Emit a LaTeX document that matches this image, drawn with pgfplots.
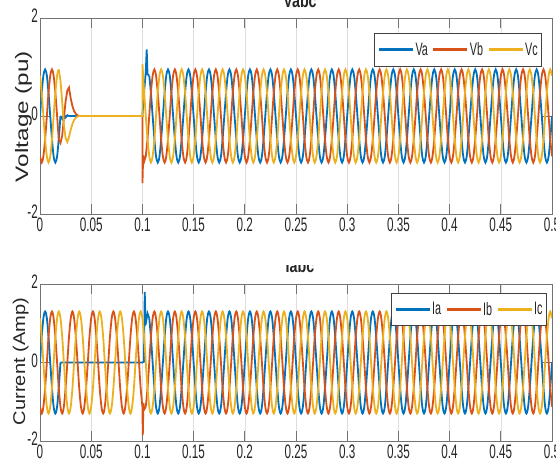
\documentclass[border=0pt]{standalone}
\usepackage{fontspec}
\setmainfont{Liberation Sans}[FakeStretch=0.6]
\newfontfamily\ylabfont{Liberation Sans}[FakeStretch=1.35]
\newfontfamily\ylabfontb{Liberation Sans}[FakeStretch=1.18]
\newfontfamily\titfont{Liberation Sans}[FakeStretch=0.75]
\usepackage{pgfplots}
\usepackage{pgfplotstable}
\pgfplotsset{compat=1.18}
\definecolor{mblue}{RGB}{0,114,189}
\definecolor{morange}{RGB}{217,83,25}
\definecolor{myellow}{RGB}{237,177,32}
\newcommand\tickf{\fontsize{19.5bp}{22bp}\selectfont}
\newcommand\legf{\fontsize{18bp}{20bp}\selectfont}
\pgfplotsset{
  mystyle/.style={
    scale only axis, width=512bp,
    xmin=0, xmax=0.5, ymin=-2, ymax=2,
    xtick={0,0.05,0.1,0.15,0.2,0.25,0.3,0.35,0.4,0.45,0.5},
    xticklabels={0,0.05,0.1,0.15,0.2,0.25,0.3,0.35,0.4,0.45,0.5},
    ytick={-2,0,2}, yticklabels={-2,0,2},
    tick align=inside, tick pos=both, major tick length=10bp,
    xmajorgrids, grid style={black!13, line width=0.6bp},
    axis line style={black!55, line width=0.8bp},
    tick style={black!55, line width=0.8bp},
    tick label style={font=\tickf, text=black!85},
    yticklabel style={inner xsep=2bp, yshift=2bp},
    legend columns=3,
    legend image code/.code={\draw[##1, line width=3bp] (0bp,0bp) -- (34bp,0bp);},
    legend style={draw=black!75, line width=0.6bp, fill=white, inner xsep=3bp, inner ysep=8bp,
      font=\legf, text=black!85, nodes={inner sep=1bp},
      /tikz/every even column/.append style={column sep=3bp}},
    every axis plot/.append style={line width=1.8bp},
  },
}
\begin{document}
\pgfplotstableread{
t va vb vc ia ib ic
0 0 -0.823 0.823 0 -1.126 1.126
0.0017 0.475 -0.95 0.475 0.65 -1.3 0.65
0.0033 0.823 -0.823 0 1.126 -1.126 0
0.005 0.95 -0.475 -0.475 1.3 -0.65 -0.65
0.0067 0.823 0 -0.823 1.126 0 -1.126
0.0083 0.475 0.475 -0.95 0.65 0.65 -1.3
0.01 0 0.823 -0.823 0 1.126 -1.126
0.0117 -0.475 0.95 -0.475 -0.65 1.3 -0.65
0.0133 -0.823 0.823 0 -1.126 1.126 0
0.015 -0.95 0.475 0.475 -1.3 0.65 0.65
0.0167 -0.823 0 0.823 -1.126 0 1.126
0.0183 -0.475 -0.475 0.95 -0.65 -0.65 1.3
0.02 0 -0.823 0.823 0 -1.126 1.126
0.0217 0.475 -0.95 0.475 0.65 -1.3 0.65
0.0233 0.823 -0.823 0 1.126 -1.126 0
0.025 0.95 -0.475 -0.475 1.3 -0.65 -0.65
0.0267 0.823 0 -0.823 1.126 0 -1.126
0.0283 0.475 0.475 -0.95 0.65 0.65 -1.3
0.03 0 0.823 -0.823 0 1.126 -1.126
0.0317 -0.475 0.95 -0.475 -0.65 1.3 -0.65
0.0333 -0.823 0.823 0 -1.126 1.126 0
0.035 -0.95 0.475 0.475 -1.3 0.65 0.65
0.0367 -0.823 0 0.823 -1.126 0 1.126
0.0383 -0.475 -0.475 0.95 -0.65 -0.65 1.3
0.04 0 -0.823 0.823 0 -1.126 1.126
0.0417 0.475 -0.95 0.475 0.65 -1.3 0.65
0.0433 0.823 -0.823 0 1.126 -1.126 0
0.045 0.95 -0.475 -0.475 1.3 -0.65 -0.65
0.0467 0.823 0 -0.823 1.126 0 -1.126
0.0483 0.475 0.475 -0.95 0.65 0.65 -1.3
0.05 0 0.823 -0.823 0 1.126 -1.126
0.0517 -0.475 0.95 -0.475 -0.65 1.3 -0.65
0.0533 -0.823 0.823 0 -1.126 1.126 0
0.055 -0.95 0.475 0.475 -1.3 0.65 0.65
0.0567 -0.823 0 0.823 -1.126 0 1.126
0.0583 -0.475 -0.475 0.95 -0.65 -0.65 1.3
0.06 0 -0.823 0.823 0 -1.126 1.126
0.0617 0.475 -0.95 0.475 0.65 -1.3 0.65
0.0633 0.823 -0.823 0 1.126 -1.126 0
0.065 0.95 -0.475 -0.475 1.3 -0.65 -0.65
0.0667 0.823 0 -0.823 1.126 0 -1.126
0.0683 0.475 0.475 -0.95 0.65 0.65 -1.3
0.07 0 0.823 -0.823 0 1.126 -1.126
0.0717 -0.475 0.95 -0.475 -0.65 1.3 -0.65
0.0733 -0.823 0.823 0 -1.126 1.126 0
0.075 -0.95 0.475 0.475 -1.3 0.65 0.65
0.0767 -0.823 0 0.823 -1.126 0 1.126
0.0783 -0.475 -0.475 0.95 -0.65 -0.65 1.3
0.08 0 -0.823 0.823 0 -1.126 1.126
0.0817 0.475 -0.95 0.475 0.65 -1.3 0.65
0.0833 0.823 -0.823 0 1.126 -1.126 0
0.085 0.95 -0.475 -0.475 1.3 -0.65 -0.65
0.0867 0.823 0 -0.823 1.126 0 -1.126
0.0883 0.475 0.475 -0.95 0.65 0.65 -1.3
0.09 0 0.823 -0.823 0 1.126 -1.126
0.0917 -0.475 0.95 -0.475 -0.65 1.3 -0.65
0.0933 -0.823 0.823 0 -1.126 1.126 0
0.095 -0.95 0.475 0.475 -1.3 0.65 0.65
0.0967 -0.823 0 0.823 -1.126 0 1.126
0.0983 -0.475 -0.475 0.95 -0.65 -0.65 1.3
0.1 0 -0.823 0.823 0 -1.126 1.126
0.1017 0.475 -0.95 0.475 0.65 -1.3 0.65
0.1033 0.823 -0.823 0 1.126 -1.126 0
0.105 0.95 -0.475 -0.475 1.3 -0.65 -0.65
0.1067 0.823 0 -0.823 1.126 0 -1.126
0.1083 0.475 0.475 -0.95 0.65 0.65 -1.3
0.11 0 0.823 -0.823 0 1.126 -1.126
0.1117 -0.475 0.95 -0.475 -0.65 1.3 -0.65
0.1133 -0.823 0.823 0 -1.126 1.126 0
0.115 -0.95 0.475 0.475 -1.3 0.65 0.65
0.1167 -0.823 0 0.823 -1.126 0 1.126
0.1183 -0.475 -0.475 0.95 -0.65 -0.65 1.3
0.12 0 -0.823 0.823 0 -1.126 1.126
0.1217 0.475 -0.95 0.475 0.65 -1.3 0.65
0.1233 0.823 -0.823 0 1.126 -1.126 0
0.125 0.95 -0.475 -0.475 1.3 -0.65 -0.65
0.1267 0.823 0 -0.823 1.126 0 -1.126
0.1283 0.475 0.475 -0.95 0.65 0.65 -1.3
0.13 0 0.823 -0.823 0 1.126 -1.126
0.1317 -0.475 0.95 -0.475 -0.65 1.3 -0.65
0.1333 -0.823 0.823 0 -1.126 1.126 0
0.135 -0.95 0.475 0.475 -1.3 0.65 0.65
0.1367 -0.823 0 0.823 -1.126 0 1.126
0.1383 -0.475 -0.475 0.95 -0.65 -0.65 1.3
0.14 0 -0.823 0.823 0 -1.126 1.126
0.1417 0.475 -0.95 0.475 0.65 -1.3 0.65
0.1433 0.823 -0.823 0 1.126 -1.126 0
0.145 0.95 -0.475 -0.475 1.3 -0.65 -0.65
0.1467 0.823 0 -0.823 1.126 0 -1.126
0.1483 0.475 0.475 -0.95 0.65 0.65 -1.3
0.15 0 0.823 -0.823 0 1.126 -1.126
0.1517 -0.475 0.95 -0.475 -0.65 1.3 -0.65
0.1533 -0.823 0.823 0 -1.126 1.126 0
0.155 -0.95 0.475 0.475 -1.3 0.65 0.65
0.1567 -0.823 0 0.823 -1.126 0 1.126
0.1583 -0.475 -0.475 0.95 -0.65 -0.65 1.3
0.16 0 -0.823 0.823 0 -1.126 1.126
0.1617 0.475 -0.95 0.475 0.65 -1.3 0.65
0.1633 0.823 -0.823 0 1.126 -1.126 0
0.165 0.95 -0.475 -0.475 1.3 -0.65 -0.65
0.1667 0.823 0 -0.823 1.126 0 -1.126
0.1683 0.475 0.475 -0.95 0.65 0.65 -1.3
0.17 0 0.823 -0.823 0 1.126 -1.126
0.1717 -0.475 0.95 -0.475 -0.65 1.3 -0.65
0.1733 -0.823 0.823 0 -1.126 1.126 0
0.175 -0.95 0.475 0.475 -1.3 0.65 0.65
0.1767 -0.823 0 0.823 -1.126 0 1.126
0.1783 -0.475 -0.475 0.95 -0.65 -0.65 1.3
0.18 0 -0.823 0.823 0 -1.126 1.126
0.1817 0.475 -0.95 0.475 0.65 -1.3 0.65
0.1833 0.823 -0.823 0 1.126 -1.126 0
0.185 0.95 -0.475 -0.475 1.3 -0.65 -0.65
0.1867 0.823 0 -0.823 1.126 0 -1.126
0.1883 0.475 0.475 -0.95 0.65 0.65 -1.3
0.19 0 0.823 -0.823 0 1.126 -1.126
0.1917 -0.475 0.95 -0.475 -0.65 1.3 -0.65
0.1933 -0.823 0.823 0 -1.126 1.126 0
0.195 -0.95 0.475 0.475 -1.3 0.65 0.65
0.1967 -0.823 0 0.823 -1.126 0 1.126
0.1983 -0.475 -0.475 0.95 -0.65 -0.65 1.3
0.2 0 -0.823 0.823 0 -1.126 1.126
0.2017 0.475 -0.95 0.475 0.65 -1.3 0.65
0.2033 0.823 -0.823 0 1.126 -1.126 0
0.205 0.95 -0.475 -0.475 1.3 -0.65 -0.65
0.2067 0.823 0 -0.823 1.126 0 -1.126
0.2083 0.475 0.475 -0.95 0.65 0.65 -1.3
0.21 0 0.823 -0.823 0 1.126 -1.126
0.2117 -0.475 0.95 -0.475 -0.65 1.3 -0.65
0.2133 -0.823 0.823 0 -1.126 1.126 0
0.215 -0.95 0.475 0.475 -1.3 0.65 0.65
0.2167 -0.823 0 0.823 -1.126 0 1.126
0.2183 -0.475 -0.475 0.95 -0.65 -0.65 1.3
0.22 0 -0.823 0.823 0 -1.126 1.126
0.2217 0.475 -0.95 0.475 0.65 -1.3 0.65
0.2233 0.823 -0.823 0 1.126 -1.126 0
0.225 0.95 -0.475 -0.475 1.3 -0.65 -0.65
0.2267 0.823 0 -0.823 1.126 0 -1.126
0.2283 0.475 0.475 -0.95 0.65 0.65 -1.3
0.23 0 0.823 -0.823 0 1.126 -1.126
0.2317 -0.475 0.95 -0.475 -0.65 1.3 -0.65
0.2333 -0.823 0.823 0 -1.126 1.126 0
0.235 -0.95 0.475 0.475 -1.3 0.65 0.65
0.2367 -0.823 0 0.823 -1.126 0 1.126
0.2383 -0.475 -0.475 0.95 -0.65 -0.65 1.3
0.24 0 -0.823 0.823 0 -1.126 1.126
0.2417 0.475 -0.95 0.475 0.65 -1.3 0.65
0.2433 0.823 -0.823 0 1.126 -1.126 0
0.245 0.95 -0.475 -0.475 1.3 -0.65 -0.65
0.2467 0.823 0 -0.823 1.126 0 -1.126
0.2483 0.475 0.475 -0.95 0.65 0.65 -1.3
0.25 0 0.823 -0.823 0 1.126 -1.126
0.2517 -0.475 0.95 -0.475 -0.65 1.3 -0.65
0.2533 -0.823 0.823 0 -1.126 1.126 0
0.255 -0.95 0.475 0.475 -1.3 0.65 0.65
0.2567 -0.823 0 0.823 -1.126 0 1.126
0.2583 -0.475 -0.475 0.95 -0.65 -0.65 1.3
0.26 0 -0.823 0.823 0 -1.126 1.126
0.2617 0.475 -0.95 0.475 0.65 -1.3 0.65
0.2633 0.823 -0.823 0 1.126 -1.126 0
0.265 0.95 -0.475 -0.475 1.3 -0.65 -0.65
0.2667 0.823 0 -0.823 1.126 0 -1.126
0.2683 0.475 0.475 -0.95 0.65 0.65 -1.3
0.27 0 0.823 -0.823 0 1.126 -1.126
0.2717 -0.475 0.95 -0.475 -0.65 1.3 -0.65
0.2733 -0.823 0.823 0 -1.126 1.126 0
0.275 -0.95 0.475 0.475 -1.3 0.65 0.65
0.2767 -0.823 0 0.823 -1.126 0 1.126
0.2783 -0.475 -0.475 0.95 -0.65 -0.65 1.3
0.28 0 -0.823 0.823 0 -1.126 1.126
0.2817 0.475 -0.95 0.475 0.65 -1.3 0.65
0.2833 0.823 -0.823 0 1.126 -1.126 0
0.285 0.95 -0.475 -0.475 1.3 -0.65 -0.65
0.2867 0.823 0 -0.823 1.126 0 -1.126
0.2883 0.475 0.475 -0.95 0.65 0.65 -1.3
0.29 0 0.823 -0.823 0 1.126 -1.126
0.2917 -0.475 0.95 -0.475 -0.65 1.3 -0.65
0.2933 -0.823 0.823 0 -1.126 1.126 0
0.295 -0.95 0.475 0.475 -1.3 0.65 0.65
0.2967 -0.823 0 0.823 -1.126 0 1.126
0.2983 -0.475 -0.475 0.95 -0.65 -0.65 1.3
0.3 0 -0.823 0.823 0 -1.126 1.126
0.3017 0.475 -0.95 0.475 0.65 -1.3 0.65
0.3033 0.823 -0.823 0 1.126 -1.126 0
0.305 0.95 -0.475 -0.475 1.3 -0.65 -0.65
0.3067 0.823 0 -0.823 1.126 0 -1.126
0.3083 0.475 0.475 -0.95 0.65 0.65 -1.3
0.31 0 0.823 -0.823 0 1.126 -1.126
0.3117 -0.475 0.95 -0.475 -0.65 1.3 -0.65
0.3133 -0.823 0.823 0 -1.126 1.126 0
0.315 -0.95 0.475 0.475 -1.3 0.65 0.65
0.3167 -0.823 0 0.823 -1.126 0 1.126
0.3183 -0.475 -0.475 0.95 -0.65 -0.65 1.3
0.32 0 -0.823 0.823 0 -1.126 1.126
0.3217 0.475 -0.95 0.475 0.65 -1.3 0.65
0.3233 0.823 -0.823 0 1.126 -1.126 0
0.325 0.95 -0.475 -0.475 1.3 -0.65 -0.65
0.3267 0.823 0 -0.823 1.126 0 -1.126
0.3283 0.475 0.475 -0.95 0.65 0.65 -1.3
0.33 0 0.823 -0.823 0 1.126 -1.126
0.3317 -0.475 0.95 -0.475 -0.65 1.3 -0.65
0.3333 -0.823 0.823 0 -1.126 1.126 0
0.335 -0.95 0.475 0.475 -1.3 0.65 0.65
0.3367 -0.823 0 0.823 -1.126 0 1.126
0.3383 -0.475 -0.475 0.95 -0.65 -0.65 1.3
0.34 0 -0.823 0.823 0 -1.126 1.126
0.3417 0.475 -0.95 0.475 0.65 -1.3 0.65
0.3433 0.823 -0.823 0 1.126 -1.126 0
0.345 0.95 -0.475 -0.475 1.3 -0.65 -0.65
0.3467 0.823 0 -0.823 1.126 0 -1.126
0.3483 0.475 0.475 -0.95 0.65 0.65 -1.3
0.35 0 0.823 -0.823 0 1.126 -1.126
0.3517 -0.475 0.95 -0.475 -0.65 1.3 -0.65
0.3533 -0.823 0.823 0 -1.126 1.126 0
0.355 -0.95 0.475 0.475 -1.3 0.65 0.65
0.3567 -0.823 0 0.823 -1.126 0 1.126
0.3583 -0.475 -0.475 0.95 -0.65 -0.65 1.3
0.36 0 -0.823 0.823 0 -1.126 1.126
0.3617 0.475 -0.95 0.475 0.65 -1.3 0.65
0.3633 0.823 -0.823 0 1.126 -1.126 0
0.365 0.95 -0.475 -0.475 1.3 -0.65 -0.65
0.3667 0.823 0 -0.823 1.126 0 -1.126
0.3683 0.475 0.475 -0.95 0.65 0.65 -1.3
0.37 0 0.823 -0.823 0 1.126 -1.126
0.3717 -0.475 0.95 -0.475 -0.65 1.3 -0.65
0.3733 -0.823 0.823 0 -1.126 1.126 0
0.375 -0.95 0.475 0.475 -1.3 0.65 0.65
0.3767 -0.823 0 0.823 -1.126 0 1.126
0.3783 -0.475 -0.475 0.95 -0.65 -0.65 1.3
0.38 0 -0.823 0.823 0 -1.126 1.126
0.3817 0.475 -0.95 0.475 0.65 -1.3 0.65
0.3833 0.823 -0.823 0 1.126 -1.126 0
0.385 0.95 -0.475 -0.475 1.3 -0.65 -0.65
0.3867 0.823 0 -0.823 1.126 0 -1.126
0.3883 0.475 0.475 -0.95 0.65 0.65 -1.3
0.39 0 0.823 -0.823 0 1.126 -1.126
0.3917 -0.475 0.95 -0.475 -0.65 1.3 -0.65
0.3933 -0.823 0.823 0 -1.126 1.126 0
0.395 -0.95 0.475 0.475 -1.3 0.65 0.65
0.3967 -0.823 0 0.823 -1.126 0 1.126
0.3983 -0.475 -0.475 0.95 -0.65 -0.65 1.3
0.4 0 -0.823 0.823 0 -1.126 1.126
0.4017 0.475 -0.95 0.475 0.65 -1.3 0.65
0.4033 0.823 -0.823 0 1.126 -1.126 0
0.405 0.95 -0.475 -0.475 1.3 -0.65 -0.65
0.4067 0.823 0 -0.823 1.126 0 -1.126
0.4083 0.475 0.475 -0.95 0.65 0.65 -1.3
0.41 0 0.823 -0.823 0 1.126 -1.126
0.4117 -0.475 0.95 -0.475 -0.65 1.3 -0.65
0.4133 -0.823 0.823 0 -1.126 1.126 0
0.415 -0.95 0.475 0.475 -1.3 0.65 0.65
0.4167 -0.823 0 0.823 -1.126 0 1.126
0.4183 -0.475 -0.475 0.95 -0.65 -0.65 1.3
0.42 0 -0.823 0.823 0 -1.126 1.126
0.4217 0.475 -0.95 0.475 0.65 -1.3 0.65
0.4233 0.823 -0.823 0 1.126 -1.126 0
0.425 0.95 -0.475 -0.475 1.3 -0.65 -0.65
0.4267 0.823 0 -0.823 1.126 0 -1.126
0.4283 0.475 0.475 -0.95 0.65 0.65 -1.3
0.43 0 0.823 -0.823 0 1.126 -1.126
0.4317 -0.475 0.95 -0.475 -0.65 1.3 -0.65
0.4333 -0.823 0.823 0 -1.126 1.126 0
0.435 -0.95 0.475 0.475 -1.3 0.65 0.65
0.4367 -0.823 0 0.823 -1.126 0 1.126
0.4383 -0.475 -0.475 0.95 -0.65 -0.65 1.3
0.44 0 -0.823 0.823 0 -1.126 1.126
0.4417 0.475 -0.95 0.475 0.65 -1.3 0.65
0.4433 0.823 -0.823 0 1.126 -1.126 0
0.445 0.95 -0.475 -0.475 1.3 -0.65 -0.65
0.4467 0.823 0 -0.823 1.126 0 -1.126
0.4483 0.475 0.475 -0.95 0.65 0.65 -1.3
0.45 0 0.823 -0.823 0 1.126 -1.126
0.4517 -0.475 0.95 -0.475 -0.65 1.3 -0.65
0.4533 -0.823 0.823 0 -1.126 1.126 0
0.455 -0.95 0.475 0.475 -1.3 0.65 0.65
0.4567 -0.823 0 0.823 -1.126 0 1.126
0.4583 -0.475 -0.475 0.95 -0.65 -0.65 1.3
0.46 0 -0.823 0.823 0 -1.126 1.126
0.4617 0.475 -0.95 0.475 0.65 -1.3 0.65
0.4633 0.823 -0.823 0 1.126 -1.126 0
0.465 0.95 -0.475 -0.475 1.3 -0.65 -0.65
0.4667 0.823 0 -0.823 1.126 0 -1.126
0.4683 0.475 0.475 -0.95 0.65 0.65 -1.3
0.47 0 0.823 -0.823 0 1.126 -1.126
0.4717 -0.475 0.95 -0.475 -0.65 1.3 -0.65
0.4733 -0.823 0.823 0 -1.126 1.126 0
0.475 -0.95 0.475 0.475 -1.3 0.65 0.65
0.4767 -0.823 0 0.823 -1.126 0 1.126
0.4783 -0.475 -0.475 0.95 -0.65 -0.65 1.3
0.48 0 -0.823 0.823 0 -1.126 1.126
0.4817 0.475 -0.95 0.475 0.65 -1.3 0.65
0.4833 0.823 -0.823 0 1.126 -1.126 0
0.485 0.95 -0.475 -0.475 1.3 -0.65 -0.65
0.4867 0.823 0 -0.823 1.126 0 -1.126
0.4883 0.475 0.475 -0.95 0.65 0.65 -1.3
0.49 0 0.823 -0.823 0 1.126 -1.126
0.4917 -0.475 0.95 -0.475 -0.65 1.3 -0.65
0.4933 -0.823 0.823 0 -1.126 1.126 0
0.495 -0.95 0.475 0.475 -1.3 0.65 0.65
0.4967 -0.823 0 0.823 -1.126 0 1.126
0.4983 -0.475 -0.475 0.95 -0.65 -0.65 1.3
0.5 0 -0.823 0.823 0 -1.126 1.126
}\dat
\begin{tikzpicture}[x=1bp,y=1bp]
\fill[white] (0,0) rectangle (556,467);
\begin{scope}
\clip (0,0) rectangle (556,467);
% ---------------- Voltage ----------------
\begin{axis}[mystyle, at={(40bp,253bp)}, anchor=south west, height=196bp,
  legend entries={Va,Vb,Vc},
  legend style={at={(0.9805,0.923)}, anchor=north east}]
\addplot[mblue, smooth, restrict x to domain=0:0.0201] table[x=t,y=va]{\dat};
\addplot[mblue, forget plot] coordinates {(0.02,0)(0.0217,-0.06)(0.0233,0.04)(0.025,-0.03)(0.0267,0.015)(0.0283,0)(0.1,0)(0.1017,0.5)(0.1033,0.9)(0.1042,1.36)(0.105,0.85)(0.1067,0.823)};
\addplot[mblue, smooth, forget plot, restrict x to domain=0.1066:0.5] table[x=t,y=va]{\dat};
\addplot[morange, smooth, restrict x to domain=0:0.019] table[x=t,y=vb]{\dat};
\addplot[morange, forget plot] coordinates {(0.0183,-0.475)(0.02,-0.55)(0.0217,-0.4)(0.0233,-0.05)(0.025,0.3)(0.0267,0.52)(0.0283,0.58)(0.03,0.36)(0.0317,0.2)(0.0333,0.1)(0.035,0.045)(0.0367,0.015)(0.0383,0)(0.1,0)(0.10005,-1.37)(0.1008,-0.8)(0.1017,-0.93)(0.1033,-0.823)(0.105,-0.475)(0.1067,0)};
\addplot[morange, smooth, forget plot, restrict x to domain=0.1066:0.5] table[x=t,y=vb]{\dat};
\addplot[myellow, smooth, restrict x to domain=0:0.019] table[x=t,y=vc]{\dat};
\addplot[myellow, forget plot] coordinates {(0.0183,0.95)(0.02,0.72)(0.0217,0.28)(0.0233,-0.18)(0.025,-0.45)(0.0267,-0.53)(0.0283,-0.43)(0.03,-0.28)(0.0317,-0.16)(0.0333,-0.08)(0.035,-0.035)(0.0367,-0.01)(0.0383,0)(0.1,0)(0.10003,1.06)(0.1008,0.8)(0.1017,0.475)(0.1033,0)(0.105,-0.475)(0.1067,-0.823)};
\addplot[myellow, smooth, forget plot, restrict x to domain=0.1066:0.5] table[x=t,y=vc]{\dat};
\end{axis}
% ---------------- Current ----------------
\begin{axis}[mystyle, at={(40bp,26bp)}, anchor=south west, height=157bp,
  legend entries={Ia,Ib,Ic},
  legend style={at={(0.990,0.943)}, anchor=north east}]
\addplot[mblue, smooth, restrict x to domain=0:0.0201] table[x=t,y=ia]{\dat};
\addplot[mblue, forget plot] coordinates {(0.02,0)(0.1,0)(0.1015,0.02)(0.1023,1.8)(0.103,0.95)(0.105,1.25)(0.1067,1.126)};
\addplot[mblue, smooth, forget plot, restrict x to domain=0.1066:0.5] table[x=t,y=ia]{\dat};
\addplot[morange, smooth, restrict x to domain=0:0.1001] table[x=t,y=ib]{\dat};
\addplot[morange, forget plot] coordinates {(0.1,-1.126)(0.1004,-1.85)(0.101,-1.03)(0.1017,-1.2)(0.1033,-1.126)};
\addplot[morange, smooth, forget plot, restrict x to domain=0.1032:0.5] table[x=t,y=ib]{\dat};
\addplot[myellow, smooth] table[x=t,y=ic]{\dat};
\end{axis}
% ---------------- labels ----------------
\node[rotate=90, anchor=base, font=\ylabfont\fontsize{18bp}{20bp}\selectfont, text=black!85] at (28,350.5) {Voltage (pu)};
\node[rotate=90, anchor=base, font=\ylabfontb\fontsize{17bp}{19bp}\selectfont, text=black!85] at (25,105.5) {Current (Amp)};
\node[anchor=base, font=\titfont\bfseries\fontsize{19bp}{20bp}\selectfont, text=black!85] at (300,459) {Vabc};
\node[anchor=base, font=\titfont\bfseries\fontsize{19bp}{20bp}\selectfont, text=black!85] at (300,194) {Iabc};
\fill[white] (250,202) rectangle (350,229);
\end{scope}
\pgfresetboundingbox
\path[use as bounding box] (0,0) rectangle (556,467);
\end{tikzpicture}
\end{document}
